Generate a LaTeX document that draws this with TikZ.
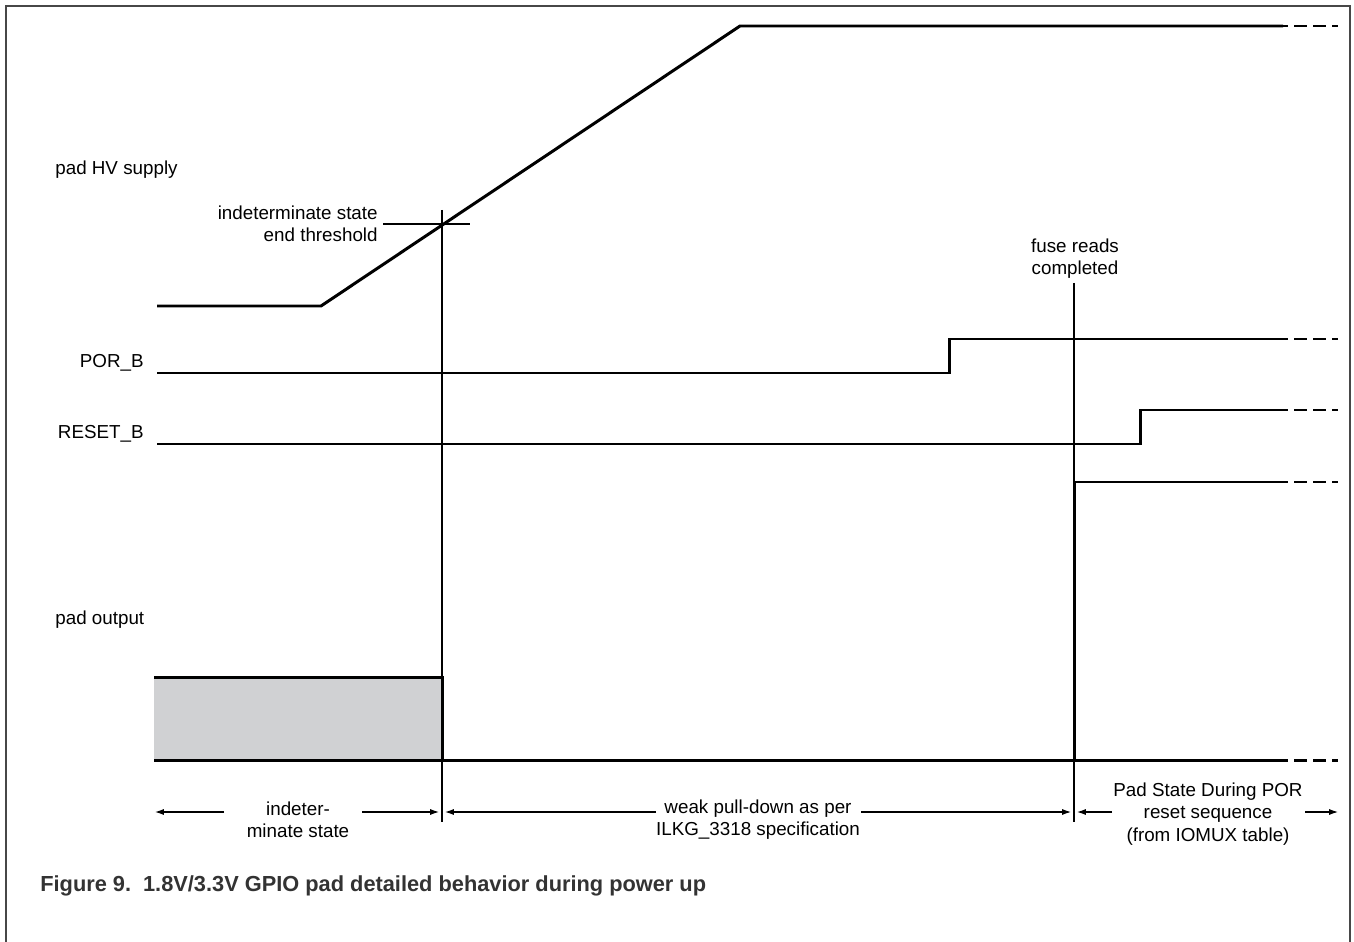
\documentclass[tikz,border=0pt]{standalone}
\usepackage{fontspec}
\setmainfont{Liberation Sans}
\usetikzlibrary{arrows.meta,positioning}
\definecolor{padgray}{HTML}{D0D1D3}

\begin{document}
\begin{tikzpicture}[x=0.02cm,y=-0.02cm,>={Latex[length=5pt,width=3.4pt]},line join=miter,
  sig/.style={line width=1.7pt},
  guide/.style={line width=0.6pt},
  cont/.style={line width=1.7pt,dash pattern=on 7.4pt off 3.4pt,dash phase=4.5pt},
  lbl/.style={font=\fontsize{10.7}{12.6}\selectfont,inner sep=0pt,align=center}]
  \useasboundingbox (0,0) rectangle (1354,942);
  \draw[line width=1.6pt,black!72] (6,942) -- (6,6) -- (1350,6) -- (1350,942);

  % pad HV supply
  \coordinate (H0) at (157,306);
  \coordinate (H1) at (321,306);
  \coordinate (H2) at (740,26);
  \coordinate (H3) at (1283,26);
  \coordinate (H4) at (1338,26);
  \draw[sig] (H0)--(H1)--(H2)--(H3);
  \draw[cont] (H3)--(H4);

  % POR_B
  \coordinate (P0) at (157,373);
  \coordinate (P1) at (949,373);
  \coordinate (P2) at (949,339);
  \coordinate (P3) at (1283,339);
  \coordinate (P4) at (1338,339);
  \draw[sig] (P0)--(P1)--(P2)--(P3);
  \draw[cont] (P3)--(P4);

  % RESET_B
  \coordinate (R0) at (157,444);
  \coordinate (R1) at (1140,444);
  \coordinate (R2) at (1140,410);
  \coordinate (R3) at (1283,410);
  \coordinate (R4) at (1338,410);
  \draw[sig] (R0)--(R1)--(R2)--(R3);
  \draw[cont] (R3)--(R4);

  % pad output
  \coordinate (X0) at (154,760);
  \coordinate (X1) at (442,760);
  \coordinate (X2) at (442,677);
  \coordinate (X3) at (154,677);
  \coordinate (F0) at (1074,760);
  \coordinate (F1) at (1074,482);
  \coordinate (F2) at (1283,482);
  \coordinate (F3) at (1338,482);
  \coordinate (L1) at (1283,760);
  \coordinate (L2) at (1338,760);
  \fill[padgray] (X0) rectangle (X2);
  \draw[sig] (X3)--(X2)--(X1);
  \draw[sig] (X0)--(L1);
  \draw[cont] (L1)--(L2);
  \draw[sig] (F0)--(F1)--(F2);
  \draw[cont] (F2)--(F3);

  % markers
  \coordinate (T0) at (442,210);
  \coordinate (T1) at (442,822);
  \coordinate (T2) at (383,224);
  \coordinate (T3) at (470,224);
  \coordinate (U0) at (1074,283);
  \coordinate (U1) at (1074,822);
  \draw[guide] (T0)--(T1);
  \draw[guide] (T2)--(T3);
  \draw[guide] (U0)--(U1);

  % signal names
  \node[lbl,anchor=west] (hv) at (55,170) {pad HV supply};
  \node[lbl,anchor=east] (por) at (144,363) {POR\_B};
  \node[lbl,anchor=east] (rst) at (144,434) {RESET\_B};
  \node[lbl,anchor=west] (out) at (55,620) {pad output};
  \node[lbl,align=right,anchor=east] (thr) at (378,224) {indeterminate state\\end threshold};
  \node[lbl] (fuse) at (1075,259) {fuse reads\\completed};

  % phases
  \node[lbl] (ph1) at (298,820) {indeter-\\minate state};
  \node[lbl] (ph2) at (758,820) {weak pull-down as per\\ILKG\_3318 specification};
  \node[lbl] (ph3) at (1208,814) {Pad State During POR\\reset sequence\\(from IOMUX table)};
  \coordinate (a0) at (155,812);
  \coordinate (a1) at (224,812);
  \coordinate (a2) at (362,812);
  \coordinate (a3) at (439,812);
  \coordinate (b0) at (445,812);
  \coordinate (b1) at (656,812);
  \coordinate (b2) at (861,812);
  \coordinate (b3) at (1071,812);
  \coordinate (c0) at (1077,812);
  \coordinate (c1) at (1112,812);
  \coordinate (c2) at (1305,812);
  \coordinate (c3) at (1338,812);
  \draw[guide,->] (a1)--(a0);
  \draw[guide,->] (a2)--(a3);
  \draw[guide,->] (b1)--(b0);
  \draw[guide,->] (b2)--(b3);
  \draw[guide,->] (c1)--(c0);
  \draw[guide,->] (c2)--(c3);

  \node[anchor=west,inner sep=0pt,text=black!80,font=\bfseries\fontsize{12.4}{14}\selectfont] (cap) at (40,886)
    {Figure 9.\hspace{0.55em}1.8V/3.3V GPIO pad detailed behavior during power up};
\end{tikzpicture}
\end{document}
